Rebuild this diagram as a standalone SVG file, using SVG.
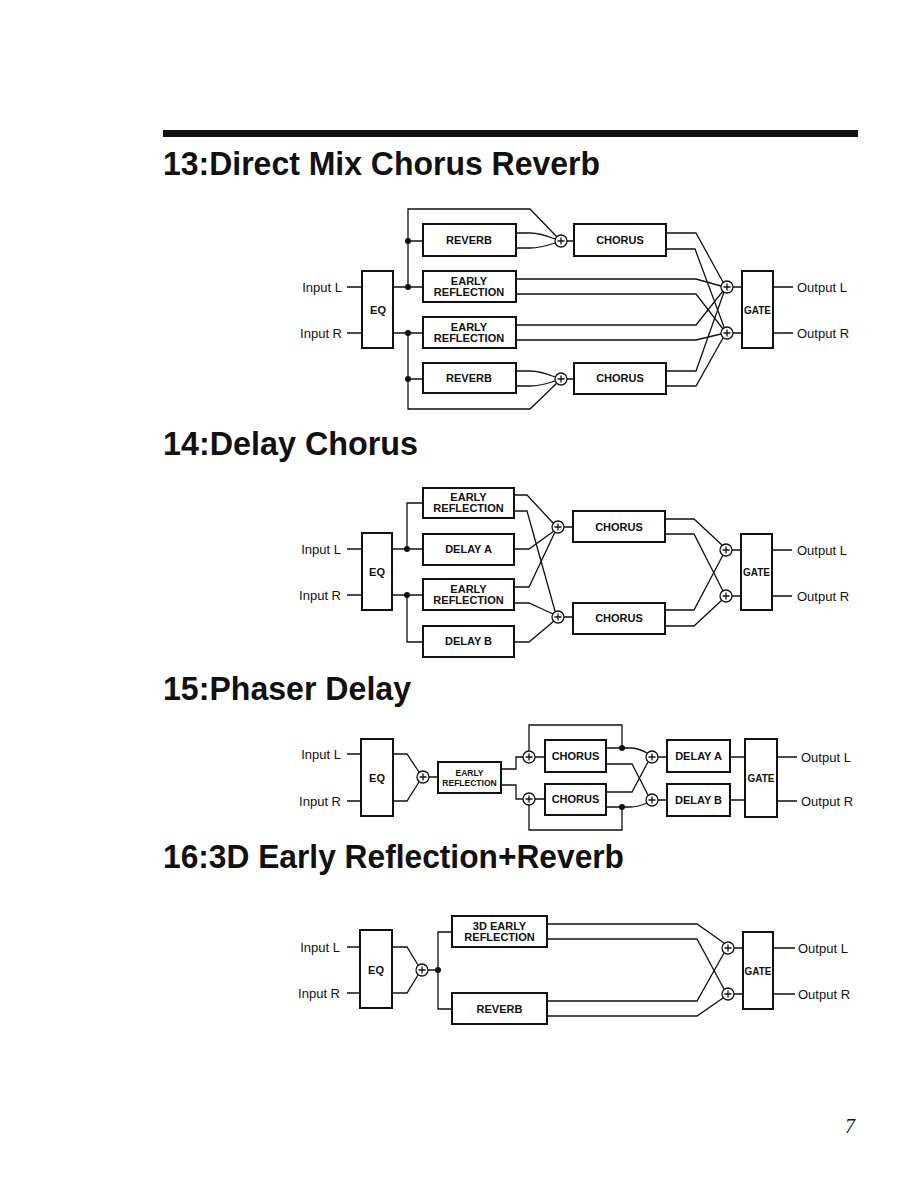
<svg xmlns="http://www.w3.org/2000/svg" width="918" height="1188" viewBox="0 0 918 1188">
<style>
.box{fill:#fff;stroke:#111;stroke-width:2}
.ln{fill:none;stroke:#111;stroke-width:1.3}
.sum{fill:#fff;stroke:#111;stroke-width:1.3}
.dot{fill:#111}
.bl{font-family:"Liberation Sans",Arial,sans-serif;font-weight:bold;font-size:11px;text-anchor:middle;fill:#111}
.sm{font-size:8.5px}
.io{font-family:"Liberation Sans",Arial,sans-serif;font-size:13px;fill:#111}
.r{text-anchor:end}
.title{font-family:"Liberation Sans",Arial,sans-serif;font-weight:bold;font-size:33px;fill:#111}
</style>
<defs>
<g id="plus"><circle class="sum" r="6"/><path class="ln" d="M-3.5,0H3.5M0,-3.5V3.5"/></g>
</defs>
<rect x="163" y="130" width="695" height="7" fill="#111"/>
<text class="title" x="163" y="175" textLength="437" lengthAdjust="spacingAndGlyphs">13:Direct Mix Chorus Reverb</text>
<text class="title" x="163" y="455" textLength="255" lengthAdjust="spacingAndGlyphs">14:Delay Chorus</text>
<text class="title" x="163" y="700" textLength="248" lengthAdjust="spacingAndGlyphs">15:Phaser Delay</text>
<text class="title" x="163" y="868" textLength="461" lengthAdjust="spacingAndGlyphs">16:3D Early Reflection+Reverb</text>
<text x="845" y="1133" style="font-family:'Liberation Serif',serif;font-style:italic;font-size:20px" fill="#111">7</text>

<!-- ===== Diagram 13 connectors ===== -->
<g id="connectors">
<path class="ln" d="M347,287H362M347,333H362"/>
<path class="ln" d="M393,287H423M408,241H423M408,287V209H530L557,237"/>
<path class="ln" d="M393,333H423M408,379H423M408,333V409H530L557,383"/>
<path class="ln" d="M516,233H530Q540,233 555,239M516,248H530Q540,248 555,243"/>
<path class="ln" d="M516,371H530Q540,371 555,377M516,386H530Q540,386 555,381"/>
<path class="ln" d="M567,241H574M567,379H574"/>
<path class="ln" d="M666,233H696L723,282M666,249H695L724,327"/>
<path class="ln" d="M516,279H696L721,286M516,294H696L723,329"/>
<path class="ln" d="M516,325H696L723,291M516,340H696L721,334"/>
<path class="ln" d="M666,371H696L724,292M666,386H696L723,338"/>
<path class="ln" d="M733,287H742M733,333H742M773,287H793M773,333H793"/>
<circle class="dot" cx="408" cy="241" r="3"/><circle class="dot" cx="408" cy="287" r="3"/>
<circle class="dot" cx="408" cy="333" r="3"/><circle class="dot" cx="408" cy="379" r="3"/>

<!-- Diagram 14 -->
<path class="ln" d="M347,549H362M347,595H362"/>
<path class="ln" d="M392,549H423M407,549V503H423M392,595H423M407,595V642H423"/>
<path class="ln" d="M514,495H527L553,523M514,511H527L555,611"/>
<path class="ln" d="M514,549H529L554,531"/>
<path class="ln" d="M514,587H529L555,532M514,603H529L553,614"/>
<path class="ln" d="M514,642H529L554,621"/>
<path class="ln" d="M564,527H573M564,617H573"/>
<path class="ln" d="M665,519H694L722,545M665,534H694L723,591"/>
<path class="ln" d="M665,610H694L723,555M665,626H694L722,600"/>
<path class="ln" d="M732,550H741M732,596H741M772,550H792M772,596H792"/>
<circle class="dot" cx="407" cy="549" r="3"/><circle class="dot" cx="407" cy="595" r="3"/>

<!-- Diagram 15 -->
<path class="ln" d="M347,754H361M347,801H361"/>
<path class="ln" d="M393,754H407L419,772M393,801H407L419,782M429,777H438"/>
<path class="ln" d="M501,769H516V757H523M501,785H516V799H523"/>
<path class="ln" d="M529,751V725H622V748M529,805V830H622V807"/>
<path class="ln" d="M535,757H545M535,799H545"/>
<path class="ln" d="M606,748H630Q638,748 647,753M606,764H632L648,795"/>
<path class="ln" d="M606,792H632L648,762M606,807H630Q638,807 647,803"/>
<path class="ln" d="M658,757H667M658,800H667M730,757H745M730,800H745M777,757H797M777,801H797"/>
<circle class="dot" cx="622" cy="748" r="3"/><circle class="dot" cx="622" cy="807" r="3"/>

<!-- Diagram 16 -->
<path class="ln" d="M347,947H360M347,993H360"/>
<path class="ln" d="M392,947H407L418,965M392,993H407L418,975M428,970H438"/>
<path class="ln" d="M452,932H438V1009H452"/>
<path class="ln" d="M547,924H697L724,943M547,939H697L724,989"/>
<path class="ln" d="M547,1001H697L724,953M547,1016H697L723,998"/>
<path class="ln" d="M734,948H743M734,994H743M773,948H795M773,994H795"/>
<circle class="dot" cx="438" cy="970" r="3"/>
</g>

<!-- ===== Diagram 13 nodes ===== -->
<g id="d13-inL"><text class="io r" x="342" y="292">Input L</text></g>
<g id="d13-inR"><text class="io r" x="342" y="338">Input R</text></g>
<g id="d13-eq"><rect class="box" x="362" y="271" width="31" height="77"/><text class="bl" x="378" y="314">EQ</text></g>
<g id="d13-rev1"><rect class="box" x="423" y="224" width="93" height="32"/><text class="bl" x="469" y="244">REVERB</text></g>
<g id="d13-er1"><rect class="box" x="423" y="271" width="93" height="31"/><text class="bl" x="469" y="285">EARLY</text><text class="bl" x="469" y="296">REFLECTION</text></g>
<g id="d13-er2"><rect class="box" x="423" y="317" width="93" height="31"/><text class="bl" x="469" y="331">EARLY</text><text class="bl" x="469" y="342">REFLECTION</text></g>
<g id="d13-rev2"><rect class="box" x="423" y="363" width="93" height="30"/><text class="bl" x="469" y="382">REVERB</text></g>
<g id="d13-sum1"><use href="#plus" x="561" y="241"/></g>
<g id="d13-sum2"><use href="#plus" x="561" y="379"/></g>
<g id="d13-ch1"><rect class="box" x="574" y="224" width="92" height="32"/><text class="bl" x="620" y="244">CHORUS</text></g>
<g id="d13-ch2"><rect class="box" x="574" y="363" width="92" height="31"/><text class="bl" x="620" y="382">CHORUS</text></g>
<g id="d13-sumL"><use href="#plus" x="727" y="287"/></g>
<g id="d13-sumR"><use href="#plus" x="727" y="333"/></g>
<g id="d13-gate"><rect class="box" x="742" y="271" width="31" height="77"/><text class="bl" x="757.5" y="314" style="font-size:10px">GATE</text></g>
<g id="d13-outL"><text class="io" x="797" y="292">Output L</text></g>
<g id="d13-outR"><text class="io" x="797" y="338">Output R</text></g>

<!-- ===== Diagram 14 nodes ===== -->
<g id="d14-inL"><text class="io r" x="341" y="554">Input L</text></g>
<g id="d14-inR"><text class="io r" x="341" y="600">Input R</text></g>
<g id="d14-eq"><rect class="box" x="362" y="533" width="30" height="77"/><text class="bl" x="377" y="576">EQ</text></g>
<g id="d14-er1"><rect class="box" x="423" y="488" width="91" height="30"/><text class="bl" x="468.5" y="501">EARLY</text><text class="bl" x="468.5" y="512">REFLECTION</text></g>
<g id="d14-dla"><rect class="box" x="423" y="534" width="91" height="31"/><text class="bl" x="468.5" y="553">DELAY A</text></g>
<g id="d14-er2"><rect class="box" x="423" y="579" width="91" height="31"/><text class="bl" x="468.5" y="593">EARLY</text><text class="bl" x="468.5" y="604">REFLECTION</text></g>
<g id="d14-dlb"><rect class="box" x="423" y="626" width="91" height="31"/><text class="bl" x="468.5" y="645">DELAY B</text></g>
<g id="d14-sum1"><use href="#plus" x="558" y="527"/></g>
<g id="d14-sum2"><use href="#plus" x="558" y="617"/></g>
<g id="d14-ch1"><rect class="box" x="573" y="511" width="92" height="31"/><text class="bl" x="619" y="531">CHORUS</text></g>
<g id="d14-ch2"><rect class="box" x="573" y="603" width="92" height="31"/><text class="bl" x="619" y="622">CHORUS</text></g>
<g id="d14-sumL"><use href="#plus" x="726" y="550"/></g>
<g id="d14-sumR"><use href="#plus" x="726" y="596"/></g>
<g id="d14-gate"><rect class="box" x="741" y="534" width="31" height="76"/><text class="bl" x="756.5" y="576" style="font-size:10px">GATE</text></g>
<g id="d14-outL"><text class="io" x="797" y="555">Output L</text></g>
<g id="d14-outR"><text class="io" x="797" y="601">Output R</text></g>

<!-- ===== Diagram 15 nodes ===== -->
<g id="d15-inL"><text class="io r" x="341" y="759">Input L</text></g>
<g id="d15-inR"><text class="io r" x="341" y="806">Input R</text></g>
<g id="d15-eq"><rect class="box" x="361" y="739" width="32" height="77"/><text class="bl" x="377" y="782">EQ</text></g>
<g id="d15-sum0"><use href="#plus" x="423" y="777"/></g>
<g id="d15-er"><rect class="box" x="438" y="762" width="63" height="31"/><text class="bl sm" x="469.5" y="776">EARLY</text><text class="bl sm" x="469.5" y="786">REFLECTION</text></g>
<g id="d15-sum1"><use href="#plus" x="529" y="757"/></g>
<g id="d15-sum2"><use href="#plus" x="529" y="799"/></g>
<g id="d15-ch1"><rect class="box" x="545" y="740" width="61" height="32"/><text class="bl" x="575.5" y="760">CHORUS</text></g>
<g id="d15-ch2"><rect class="box" x="545" y="784" width="61" height="31"/><text class="bl" x="575.5" y="803">CHORUS</text></g>
<g id="d15-sumA"><use href="#plus" x="652" y="757"/></g>
<g id="d15-sumB"><use href="#plus" x="652" y="800"/></g>
<g id="d15-dla"><rect class="box" x="667" y="740" width="63" height="32"/><text class="bl" x="698.5" y="760">DELAY A</text></g>
<g id="d15-dlb"><rect class="box" x="667" y="784" width="63" height="32"/><text class="bl" x="698.5" y="804">DELAY B</text></g>
<g id="d15-gate"><rect class="box" x="745" y="739" width="32" height="78"/><text class="bl" x="761" y="782" style="font-size:10px">GATE</text></g>
<g id="d15-outL"><text class="io" x="801" y="762">Output L</text></g>
<g id="d15-outR"><text class="io" x="801" y="806">Output R</text></g>

<!-- ===== Diagram 16 nodes ===== -->
<g id="d16-inL"><text class="io r" x="340" y="952">Input L</text></g>
<g id="d16-inR"><text class="io r" x="340" y="998">Input R</text></g>
<g id="d16-eq"><rect class="box" x="360" y="930" width="32" height="78"/><text class="bl" x="376" y="974">EQ</text></g>
<g id="d16-sum0"><use href="#plus" x="422" y="970"/></g>
<g id="d16-er"><rect class="box" x="452" y="916" width="95" height="31"/><text class="bl" x="499.5" y="930">3D EARLY</text><text class="bl" x="499.5" y="941">REFLECTION</text></g>
<g id="d16-rev"><rect class="box" x="452" y="993" width="95" height="31"/><text class="bl" x="499.5" y="1013">REVERB</text></g>
<g id="d16-sumL"><use href="#plus" x="728" y="948"/></g>
<g id="d16-sumR"><use href="#plus" x="728" y="994"/></g>
<g id="d16-gate"><rect class="box" x="743" y="932" width="30" height="77"/><text class="bl" x="758" y="975" style="font-size:10px">GATE</text></g>
<g id="d16-outL"><text class="io" x="798" y="953">Output L</text></g>
<g id="d16-outR"><text class="io" x="798" y="999">Output R</text></g>
</svg>
